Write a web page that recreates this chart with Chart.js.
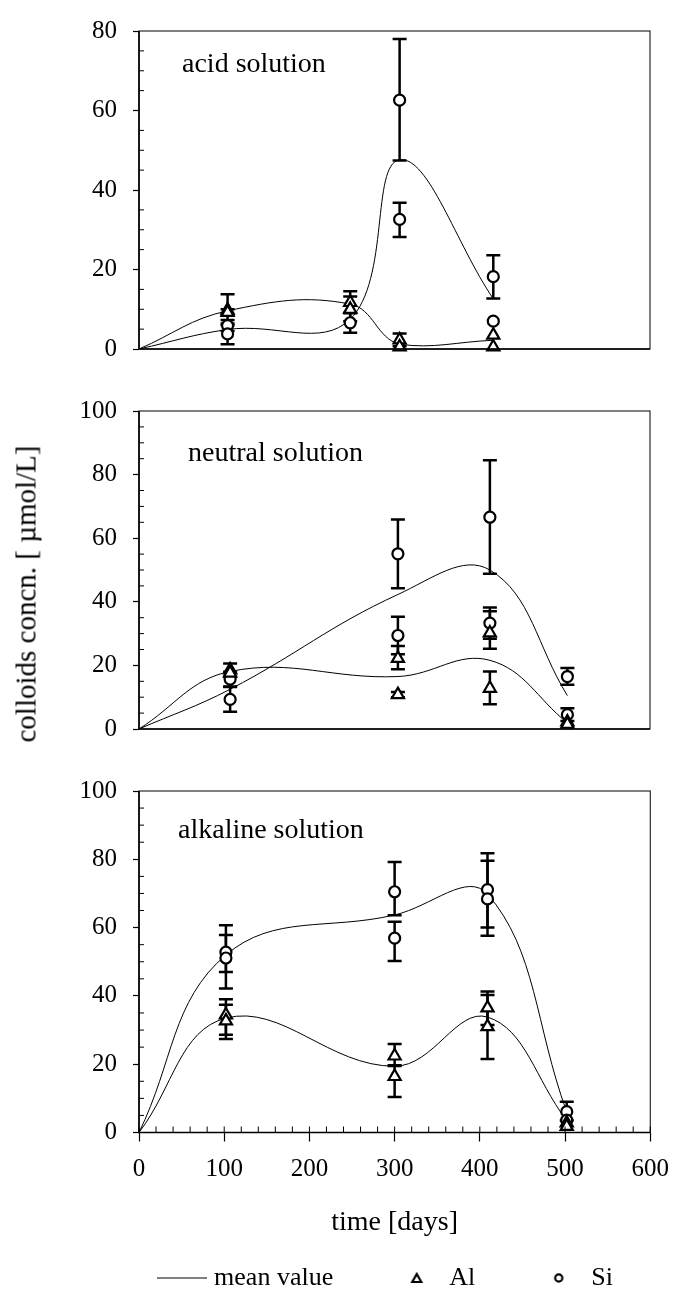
<!DOCTYPE html>
<html>
<head>
<meta charset="utf-8">
<script src="https://cdn.jsdelivr.net/npm/chart.js@4.4.1/dist/chart.umd.min.js"></script>
<style>
  html, body { margin: 0; background: #fff; overflow: hidden; }
  #page { position: relative; width: 673px; height: 1294px; overflow: hidden; background: #fff; }
  canvas { position: absolute; left: 0; }
  #ytitle {
    position: absolute; left: 26px; top: 594px;
    transform: translate(-50%, -50%) rotate(-90deg);
    font: 29px 'Liberation Serif', 'Times New Roman', serif;
    white-space: nowrap; color: #000;
  }
</style>
</head>
<body>
<div id="page">
  <canvas id="acid" width="673" height="380" style="top:0px"></canvas>
  <canvas id="neutral" width="673" height="380" style="top:380px"></canvas>
  <canvas id="alkaline" width="682" height="541" style="top:760px"></canvas>
  <div id="ytitle">colloids concn. [ µmol/L]</div>
</div>
<script>
// acid solution
const acidMeanDays = [0, 104, 248, 306, 416];
const acidAlMean = [0, 9.6, 11.3, 1.2, 2.2];
const acidSiMean = [0, 4.9, 7.5, 47.6, 12.6];
const acidAlDays = [104, 104, 248, 248, 306, 306, 416, 416];
const acidAl     = [9.8, 9.2, 11.7, 10.0, 2.3, 0.5, 3.5, 0.5];
const acidAlLow  = [6.0, 8.4, 9.0, 7.0, 0.7, null, null, null];
const acidAlHigh = [13.8, 10.0, 14.5, 13.2, 3.9, null, null, null];
const acidSiDays = [104, 104, 248, 306, 306, 416, 416];
const acidSi     = [5.9, 3.8, 6.6, 62.6, 32.6, 18.2, 7.0];
const acidSiLow  = [4.5, 1.2, 4.1, 47.4, 28.2, 12.7, null];
const acidSiHigh = [7.3, 6.4, 9.1, 78.0, 36.8, 23.6, null];

// neutral solution
const neutralMeanDays = [0, 107, 304, 412, 503];
const neutralAlMean = [0, 18.1, 16.5, 21.6, 1.9];
const neutralSiMean = [0, 12.5, 42.3, 50.0, 10.5];
const neutralAlDays = [107, 107, 304, 304, 412, 412, 503, 503];
const neutralAl     = [18.6, 17.6, 22.2, 10.8, 30.2, 12.8, 2.2, 1.5];
const neutralAlLow  = [16.6, null, 18.8, 10.0, 25.2, 7.8, null, null];
const neutralAlHigh = [20.6, null, 26.1, 11.6, 37.0, 18.1, null, null];
const neutralSiDays = [107, 107, 304, 304, 412, 412, 503, 503];
const neutralSi     = [15.7, 9.3, 55.1, 29.4, 66.6, 33.3, 16.5, 4.5];
const neutralSiLow  = [13.4, 5.4, 44.3, 23.5, 48.8, 28.4, 13.9, 2.5];
const neutralSiHigh = [18.0, 13.2, 65.9, 35.3, 84.5, 38.2, 19.2, 6.5];

// alkaline solution
const alkalineMeanDays = [0, 102, 300, 409, 502];
const alkalineAlMean = [0, 33.5, 19.4, 33.8, 3.5];
const alkalineSiMean = [0, 52.0, 63.7, 69.8, 6.0];
const alkalineAlDays = [102, 102, 300, 300, 409, 409, 502, 502];
const alkalineAl     = [34.4, 32.7, 22.4, 16.4, 36.5, 31.0, 2.8, 1.8];
const alkalineAlLow  = [28.6, 27.4, 19.7, 10.4, 31.5, 21.5, null, null];
const alkalineAlHigh = [39.0, 37.4, 25.9, 19.5, 41.3, 40.3, null, null];
const alkalineSiDays = [102, 102, 300, 300, 409, 409, 502, 502];
const alkalineSi     = [52.8, 51.1, 70.5, 56.9, 71.1, 68.4, 6.1, 3.6];
const alkalineSiLow  = [47.0, 42.2, 63.6, 50.2, 60.0, 57.6, 3.5, null];
const alkalineSiHigh = [60.7, 57.8, 79.2, 61.7, 81.8, 79.6, 9.0, null];

const xTicks = [0, 100, 200, 300, 400, 500, 600];

Chart.defaults.font.family = "'Liberation Serif', 'Times New Roman', serif";
Chart.defaults.color = '#000';
Chart.defaults.animation = false;

function toPoints(xs, ys) {
  return xs.map((x, i) => ({ x: x, y: ys[i] }));
}

// error bars, drawn under the markers
const errorBars = {
  id: 'errorBars',
  beforeDatasetsDraw(chart) {
    const { ctx, scales: { x, y } } = chart;
    ctx.save();
    ctx.strokeStyle = '#000';
    ctx.lineWidth = 2.5;
    chart.data.datasets.forEach(ds => {
      if (!ds.errLow) return;
      ds.data.forEach((p, i) => {
        const lo = ds.errLow[i], hi = ds.errHigh[i];
        if (lo == null || hi == null) return;
        const px = x.getPixelForValue(p.x);
        const y1 = y.getPixelForValue(lo), y2 = y.getPixelForValue(hi);
        ctx.beginPath();
        ctx.moveTo(px, y1); ctx.lineTo(px, y2);
        ctx.moveTo(px - 7, y1); ctx.lineTo(px + 7, y1);
        ctx.moveTo(px - 7, y2); ctx.lineTo(px + 7, y2);
        ctx.stroke();
      });
    });
    ctx.restore();
  }
};

// box round the plot, inner minor ticks, panel name
const frame = {
  id: 'frame',
  afterDraw(chart, args, opts) {
    const { ctx, chartArea: a, scales: { x, y } } = chart;
    ctx.save();
    ctx.strokeStyle = '#000';
    ctx.lineWidth = 1;
    ctx.strokeRect(a.left, a.top, a.right - a.left, a.bottom - a.top);
    ctx.lineWidth = 1.6;
    ctx.beginPath();
    ctx.moveTo(a.left, a.top);
    ctx.lineTo(a.left, a.bottom);
    ctx.lineTo(a.right, a.bottom);
    ctx.stroke();
    ctx.lineWidth = 1;
    ctx.beginPath();
    y.ticks.forEach(t => {
      if (t.value % 20 === 0) return;
      const py = y.getPixelForValue(t.value);
      ctx.moveTo(a.left, py); ctx.lineTo(a.left + 5, py);
    });
    if (x.options.display) {
      x.ticks.forEach(t => {
        const px = x.getPixelForValue(t.value);
        ctx.moveTo(px, a.bottom); ctx.lineTo(px, a.bottom - 6);
      });
    }
    ctx.stroke();
    ctx.font = "28px 'Liberation Serif', 'Times New Roman', serif";
    ctx.fillStyle = '#000';
    ctx.textBaseline = 'middle';
    ctx.fillText(opts.text, a.left + opts.dx, a.top + opts.dy);
    ctx.restore();
  }
};

function yScale(max) {
  return {
    type: 'linear', min: 0, max: max,
    afterFit: s => { s.width = 139; },
    border: { display: false },
    grid: {
      drawOnChartArea: false, tickLength: 6, tickWidth: 1.2,
      tickColor: c => (c.tick && c.tick.value % 20 === 0) ? '#000' : 'rgba(0,0,0,0)'
    },
    ticks: {
      stepSize: 5, autoSkip: false, padding: 16, font: { size: 25 },
      callback: v => (v % 20 === 0 ? v : '')
    }
  };
}

function datasets(meanDays, alMean, siMean, alDays, al, alLow, alHigh, siDays, si, siLow, siHigh) {
  const marker = { type: 'scatter', borderColor: '#000', backgroundColor: '#fff', borderWidth: 2.2, clip: false, order: 0 };
  const mean = { type: 'scatter', showLine: true, borderColor: '#000', borderWidth: 1, pointRadius: 0, tension: 0.4, fill: false, order: 1 };
  return [
    Object.assign({ label: 'Al', data: toPoints(alDays, al), errLow: alLow, errHigh: alHigh, pointStyle: 'triangle', pointRadius: 7 }, marker),
    Object.assign({ label: 'Si', data: toPoints(siDays, si), errLow: siLow, errHigh: siHigh, pointStyle: 'circle', pointRadius: 5.5 }, marker),
    Object.assign({ label: 'Al mean', data: toPoints(meanDays, alMean) }, mean),
    Object.assign({ label: 'Si mean', data: toPoints(meanDays, siMean) }, mean)
  ];
}

function icon(w, h, draw) {
  const c = document.createElement('canvas');
  c.width = w; c.height = h;
  draw(c.getContext('2d'));
  return c;
}
const lineIcon = icon(50, 3, g => { g.strokeStyle = '#000'; g.lineWidth = 1.2; g.beginPath(); g.moveTo(0, 1.5); g.lineTo(50, 1.5); g.stroke(); });
const circleIcon = icon(12, 12, g => { g.strokeStyle = '#000'; g.lineWidth = 2.2; g.beginPath(); g.arc(6, 6, 3.6, 0, Math.PI * 2); g.stroke(); });
const triangleIcon = icon(14, 14, g => {
  g.strokeStyle = '#000'; g.lineWidth = 2.2; g.lineJoin = 'miter';
  g.beginPath(); g.moveTo(7, 3); g.lineTo(11.5, 11); g.lineTo(2.5, 11); g.closePath(); g.stroke();
});
const blankIcon = icon(1, 1, g => {});
const spacer = { text: '', pointStyle: blankIcon, fillStyle: 'rgba(0,0,0,0)', strokeStyle: 'rgba(0,0,0,0)', lineWidth: 0 };

// acid
new Chart(document.getElementById('acid'), {
  type: 'scatter',
  data: { datasets: datasets(acidMeanDays, acidAlMean, acidSiMean, acidAlDays, acidAl, acidAlLow, acidAlHigh, acidSiDays, acidSi, acidSiLow, acidSiHigh) },
  options: {
    responsive: false, events: [],
    layout: { padding: { left: 0, right: 23, top: 17, bottom: 22 } },
    scales: { x: { type: 'linear', min: 0, max: 600, display: false }, y: yScale(80) },
    plugins: { legend: { display: false }, tooltip: { enabled: false }, frame: { text: 'acid solution', dx: 43, dy: 34 } }
  },
  plugins: [errorBars, frame]
});

// neutral
new Chart(document.getElementById('neutral'), {
  type: 'scatter',
  data: { datasets: datasets(neutralMeanDays, neutralAlMean, neutralSiMean, neutralAlDays, neutralAl, neutralAlLow, neutralAlHigh, neutralSiDays, neutralSi, neutralSiLow, neutralSiHigh) },
  options: {
    responsive: false, events: [],
    layout: { padding: { left: 0, right: 23, top: 22, bottom: 18 } },
    scales: { x: { type: 'linear', min: 0, max: 600, display: false }, y: yScale(100) },
    plugins: { legend: { display: false }, tooltip: { enabled: false }, frame: { text: 'neutral solution', dx: 49, dy: 43 } }
  },
  plugins: [errorBars, frame]
});

// alkaline, with the x axis and the legend
new Chart(document.getElementById('alkaline'), {
  type: 'scatter',
  data: { datasets: datasets(alkalineMeanDays, alkalineAlMean, alkalineSiMean, alkalineAlDays, alkalineAl, alkalineAlLow, alkalineAlHigh, alkalineSiDays, alkalineSi, alkalineSiLow, alkalineSiHigh) },
  options: {
    responsive: false, events: [],
    layout: { padding: { left: 0, right: 23, top: 25, bottom: 0 } },
    scales: {
      x: {
        type: 'linear', min: 0, max: 600,
        afterFit: s => { s.height = 126.5; },
        border: { display: false },
        grid: {
          drawOnChartArea: false, tickLength: 9, tickWidth: 1.2,
          tickColor: c => (c.tick && xTicks.includes(c.tick.value)) ? '#000' : 'rgba(0,0,0,0)'
        },
        ticks: {
          stepSize: 20, autoSkip: false, maxRotation: 0, padding: 13, font: { size: 25 },
          callback: v => (xTicks.includes(v) ? v : '')
        },
        title: { display: true, text: 'time [days]', font: { size: 28 }, padding: { top: 0, bottom: 20 } }
      },
      y: yScale(100)
    },
    plugins: {
      tooltip: { enabled: false },
      frame: { text: 'alkaline solution', dx: 39, dy: 40 },
      legend: {
        position: 'bottom',
        labels: {
          usePointStyle: true, pointStyleWidth: 39, boxHeight: 7, padding: 6,
          font: { size: 26 }, color: '#000',
          generateLabels: () => [
            spacer, spacer,
            { text: 'mean value', pointStyle: lineIcon, fillStyle: '#000', strokeStyle: '#000', lineWidth: 1 },
            spacer,
            { text: 'Al', pointStyle: triangleIcon, fillStyle: '#fff', strokeStyle: '#000', lineWidth: 2.2 },
            spacer,
            { text: 'Si', pointStyle: circleIcon, fillStyle: '#fff', strokeStyle: '#000', lineWidth: 2.2 }
          ]
        }
      }
    }
  },
  plugins: [errorBars, frame]
});
</script>
</body>
</html>
